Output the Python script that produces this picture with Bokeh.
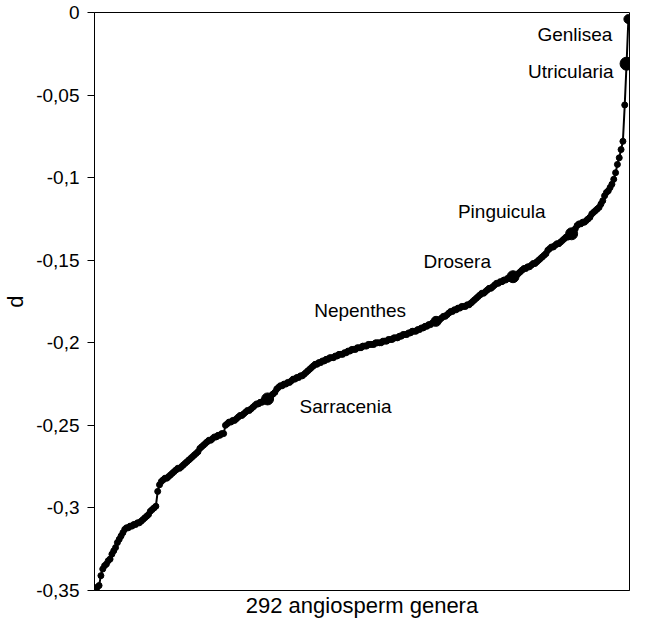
from bokeh.plotting import figure
from bokeh.models import Range1d, FixedTicker, ColumnDataSource
from bokeh.core.properties import value
from bokeh.embed import file_html
from bokeh.resources import INLINE

# ---- data (d of 292 angiosperm genera, sorted) ----
d_values = [
    -0.349, -0.348, -0.347, -0.341, -0.337,
    -0.335, -0.334, -0.332, -0.331, -0.328,
    -0.326, -0.324, -0.321, -0.319, -0.317,
    -0.315, -0.313, -0.312, -0.312, -0.311,
    -0.311, -0.310, -0.310, -0.309, -0.309,
    -0.308, -0.307, -0.306, -0.305, -0.304,
    -0.302, -0.301, -0.300, -0.299, -0.290,
    -0.286, -0.284, -0.283, -0.282, -0.282,
    -0.281, -0.280, -0.279, -0.278, -0.277,
    -0.276, -0.276, -0.275, -0.274, -0.273,
    -0.272, -0.271, -0.270, -0.269, -0.268,
    -0.267, -0.266, -0.264, -0.263, -0.262,
    -0.261, -0.260, -0.259, -0.259, -0.258,
    -0.257, -0.257, -0.256, -0.256, -0.255,
    -0.255, -0.250, -0.249, -0.248, -0.248,
    -0.247, -0.247, -0.246, -0.245, -0.244,
    -0.244, -0.243, -0.242, -0.241, -0.241,
    -0.240, -0.239, -0.238, -0.237, -0.237,
    -0.236, -0.236, -0.235, -0.235, -0.234,
    -0.233, -0.232, -0.231, -0.230, -0.228,
    -0.227, -0.226, -0.226, -0.225, -0.225,
    -0.224, -0.224, -0.223, -0.222, -0.222,
    -0.221, -0.221, -0.220, -0.220, -0.219,
    -0.218, -0.217, -0.216, -0.215, -0.214,
    -0.213, -0.213, -0.212, -0.212, -0.211,
    -0.211, -0.210, -0.210, -0.209, -0.209,
    -0.209, -0.208, -0.208, -0.207, -0.207,
    -0.207, -0.206, -0.206, -0.205, -0.205,
    -0.204, -0.204, -0.204, -0.203, -0.203,
    -0.203, -0.202, -0.202, -0.202, -0.201,
    -0.201, -0.201, -0.201, -0.200, -0.200,
    -0.200, -0.200, -0.199, -0.199, -0.199,
    -0.198, -0.198, -0.198, -0.197, -0.197,
    -0.197, -0.196, -0.196, -0.195, -0.195,
    -0.195, -0.194, -0.194, -0.193, -0.193,
    -0.193, -0.192, -0.192, -0.191, -0.191,
    -0.190, -0.190, -0.189, -0.189, -0.188,
    -0.188, -0.187, -0.187, -0.186, -0.185,
    -0.184, -0.184, -0.183, -0.182, -0.181,
    -0.181, -0.180, -0.180, -0.179, -0.179,
    -0.178, -0.178, -0.178, -0.177, -0.177,
    -0.176, -0.175, -0.174, -0.173, -0.172,
    -0.171, -0.170, -0.170, -0.169, -0.168,
    -0.167, -0.167, -0.166, -0.165, -0.164,
    -0.164, -0.163, -0.163, -0.162, -0.162,
    -0.161, -0.161, -0.160, -0.160, -0.159,
    -0.159, -0.158, -0.157, -0.156, -0.155,
    -0.155, -0.154, -0.154, -0.153, -0.152,
    -0.152, -0.151, -0.150, -0.149, -0.148,
    -0.147, -0.146, -0.144, -0.143, -0.142,
    -0.142, -0.141, -0.140, -0.140, -0.139,
    -0.138, -0.137, -0.136, -0.136, -0.135,
    -0.134, -0.133, -0.131, -0.129, -0.128,
    -0.128, -0.127, -0.127, -0.126, -0.125,
    -0.124, -0.122, -0.121, -0.120, -0.119,
    -0.118, -0.116, -0.114, -0.111, -0.109,
    -0.108, -0.106, -0.104, -0.101, -0.097,
    -0.092, -0.088, -0.083, -0.078, -0.056,
    -0.031, -0.004,
]
genus_rank = list(range(1, len(d_values) + 1))

carnivorous_genera = ["Sarracenia", "Nepenthes", "Drosera", "Pinguicula", "Utricularia", "Genlisea"]
carnivorous_rank = [95, 187, 229, 261, 291, 292]

y_ticks = [0, -0.05, -0.1, -0.15, -0.2, -0.25, -0.3, -0.35]
y_tick_labels = ["0", "-0,05", "-0,1", "-0,15", "-0,2", "-0,25", "-0,3", "-0,35"]
x_axis_title = "292 angiosperm genera"
y_axis_title = "d"

# ---- styling (not data) ----
FONT = "Liberation Sans"
marker_size = [12, 10, 12, 12, 13, 9]
label_dx = [32, -30, -22, -26, -13, -16]
label_dy = [8, -11, -15, -22, 8, 15]
label_align = ["left", "right", "right", "right", "right", "right"]

p = figure(
    width=630, height=620,
    x_range=Range1d(0.5, 292.6), y_range=Range1d(-0.35, 0),
    output_backend="svg", toolbar_location=None,
    min_border_left=93, min_border_right=1, min_border_top=12, min_border_bottom=28,
)
p.background_fill_color = "white"
p.border_fill_color = "white"
p.outline_line_color = "black"
p.outline_line_width = 1
p.xgrid.grid_line_color = None
p.ygrid.grid_line_color = None

# x axis: title only
p.xaxis.ticker = FixedTicker(ticks=[])
p.xaxis.major_tick_line_color = None
p.xaxis.minor_tick_line_color = None
p.xaxis.major_label_text_font_size = "0px"
p.xaxis.axis_line_color = "black"
p.xaxis.axis_label = x_axis_title
p.xaxis.axis_label_text_font = FONT
p.xaxis.axis_label_text_font_style = "normal"
p.xaxis.axis_label_text_font_size = "22px"
p.xaxis.axis_label_text_color = "black"
p.xaxis.axis_label_standoff = 2

# y axis
p.yaxis.ticker = FixedTicker(ticks=y_ticks)
p.yaxis.major_label_overrides = {t: lab for t, lab in zip(y_ticks, y_tick_labels)}
p.yaxis.major_tick_out = 7
p.yaxis.major_tick_in = 0
p.yaxis.minor_tick_line_color = None
p.yaxis.axis_line_color = "black"
p.yaxis.major_tick_line_color = "black"
p.yaxis.major_label_text_font = FONT
p.yaxis.major_label_text_font_size = "19px"
p.yaxis.major_label_text_color = "black"
p.yaxis.major_label_standoff = 8
p.yaxis.axis_label = y_axis_title
p.yaxis.axis_label_text_font = FONT
p.yaxis.axis_label_text_font_style = "normal"
p.yaxis.axis_label_text_font_size = "22px"
p.yaxis.axis_label_text_color = "black"
p.yaxis.axis_label_standoff = 5

# curve
p.line(genus_rank, d_values, line_color="black", line_width=2)
p.scatter(genus_rank, d_values, size=6, fill_color="black", line_color="black")

# carnivorous genera
hl = ColumnDataSource(dict(
    rank=carnivorous_rank,
    d=[d_values[r - 1] for r in carnivorous_rank],
    name=carnivorous_genera,
    size=marker_size,
    dx=label_dx,
    dy=label_dy,
    align=label_align,
))
p.scatter("rank", "d", size="size", source=hl, fill_color="black", line_color="black")
p.text("rank", "d", text="name", source=hl, x_offset="dx", y_offset="dy",
       text_align="align", text_baseline="middle",
       text_font=value(FONT), text_font_size="19px", text_color="black")

open("out.html", "w").write(file_html(p, INLINE))
